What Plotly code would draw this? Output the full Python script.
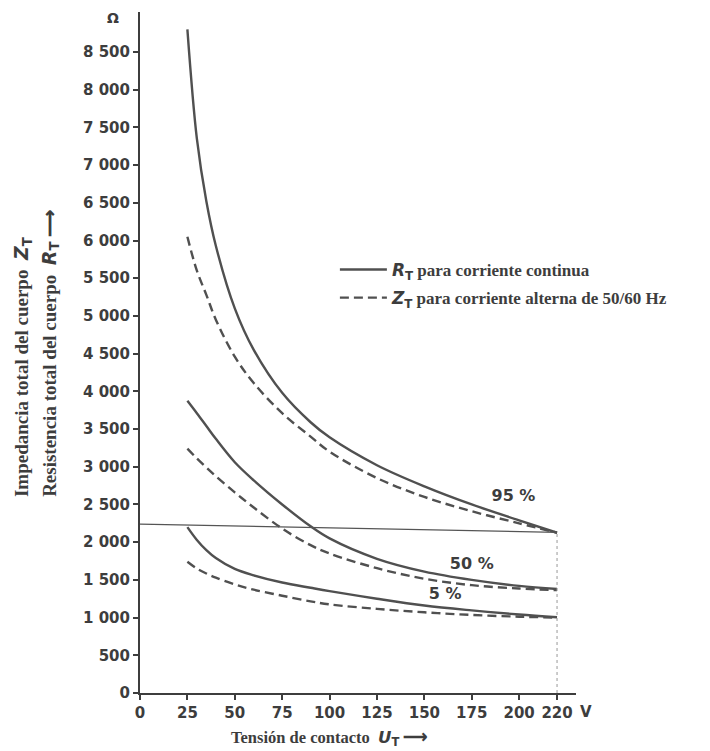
import plotly.graph_objects as go

# ---- data ----
voltage = [25, 30, 35, 40, 50, 60, 75, 90, 100, 125, 150, 175, 200, 220]
rt_95 = [8800, 7350, 6520, 5930, 5100, 4550, 3980, 3590, 3390, 3020, 2740, 2500, 2290, 2125]
zt_95 = [6050, 5600, 5280, 4950, 4460, 4110, 3710, 3400, 3200, 2850, 2600, 2410, 2250, 2125]
rt_50 = [3875, 3710, 3540, 3370, 3060, 2820, 2500, 2210, 2050, 1780, 1610, 1500, 1420, 1380]
zt_50 = [3240, 3110, 2990, 2875, 2660, 2460, 2180, 1960, 1850, 1655, 1515, 1430, 1385, 1365]
rt_5 = [2200, 2030, 1895, 1790, 1645, 1560, 1465, 1395, 1350, 1250, 1160, 1095, 1040, 1005]
zt_5 = [1740, 1650, 1585, 1530, 1440, 1370, 1290, 1215, 1175, 1115, 1070, 1035, 1012, 1000]

x_ticks = [0, 25, 50, 75, 100, 125, 150, 175, 200, 220]
y_ticks = [0, 500, 1000, 1500, 2000, 2500, 3000, 3500, 4000, 4500,
           5000, 5500, 6000, 6500, 7000, 7500, 8000, 8500]
y_tick_text = ["0", "500", "1 000", "1 500", "2 000", "2 500", "3 000", "3 500",
               "4 000", "4 500", "5 000", "5 500", "6 000", "6 500", "7 000",
               "7 500", "8 000", "8 500"]

ref_line_x = [0, 220]
ref_line_y = [2240, 2130]

pct_labels = ["95 %", "50 %", "5 %"]
pct_x = [197, 175, 161]
pct_y = [2600, 1700, 1300]

INK = "#3d3d3d"
LINE = "#505050"
SANS = "DejaVu Sans"
SERIF = "Liberation Serif"
DASH = "9px,5px"


def sym(letter):
    return (f"<i><span style='font-family:{SANS}'>{letter}</span></i>"
            f"<sub><span style='font-family:{SANS}'>T</span></sub>")


fig = go.Figure()

series = [
    (rt_95, "solid", True, "g1", f"{sym('R')} para corriente continua"),
    (zt_95, DASH, True, "g2", f"{sym('Z')} para corriente alterna de 50/60 Hz"),
    (rt_50, "solid", False, "g1", None),
    (zt_50, DASH, False, "g2", None),
    (rt_5, "solid", False, "g1", None),
    (zt_5, DASH, False, "g2", None),
]
for ys, dash, show, grp, name in series:
    fig.add_trace(go.Scatter(
        x=voltage, y=ys, mode="lines",
        line=dict(color=LINE, width=2.4, dash=dash, shape="spline", smoothing=1.0),
        showlegend=show, legendgroup=grp, name=name or "",
        hoverinfo="skip",
    ))

# reference lines
fig.add_trace(go.Scatter(x=ref_line_x, y=ref_line_y, mode="lines",
                         line=dict(color="#555", width=1.2), showlegend=False, hoverinfo="skip"))
fig.add_trace(go.Scatter(x=[ref_line_x[1], ref_line_x[1]], y=[0, ref_line_y[1]], mode="lines",
                         line=dict(color="#999", width=1, dash="dot"), showlegend=False, hoverinfo="skip"))

# percentage labels
fig.add_trace(go.Scatter(x=pct_x, y=pct_y, mode="text", text=pct_labels,
                         textfont=dict(family=SANS, size=16, color=INK, weight="bold"),
                         showlegend=False, hoverinfo="skip"))

fig.update_layout(
    width=702, height=743,
    margin=dict(l=132, r=134, t=4, b=58),
    paper_bgcolor="white", plot_bgcolor="white",
    showlegend=True,
    legend=dict(x=0.447, y=0.6476, xanchor="left", yanchor="top",
                bgcolor="rgba(0,0,0,0)", tracegroupgap=3, itemwidth=47,
                traceorder="grouped",
                font=dict(family=SERIF, size=17, color=INK, weight="bold")),
    xaxis=dict(range=[0, 230], tickvals=x_ticks, ticktext=[str(v) for v in x_ticks],
               showgrid=False, zeroline=False, showline=True, linecolor=INK, linewidth=2,
               ticks="outside", ticklen=5, tickwidth=1.5, tickcolor=INK,
               tickfont=dict(family=SANS, size=15, color=INK, weight="bold")),
    yaxis=dict(range=[0, 9030], tickvals=y_ticks, ticktext=y_tick_text,
               showgrid=False, zeroline=False, showline=True, linecolor=INK, linewidth=2,
               ticks="outside", ticklen=5, tickwidth=1.5, tickcolor=INK,
               tickfont=dict(family=SANS, size=15, color=INK, weight="bold")),
)

annos = [
    dict(text="Ω", x=-0.062, xref="paper", xanchor="center", y=8956, yref="y",
         yanchor="middle", showarrow=False,
         font=dict(family=SANS, size=14, color=INK, weight="bold")),
    dict(text="V", x=235.4 / 230, xref="paper", xanchor="center", y=0, yref="paper",
         yanchor="middle", yshift=-19, showarrow=False,
         font=dict(family=SANS, size=15, color=INK, weight="bold")),
    dict(text=f"Tensión de contacto  {sym('U')} ⟶",
         x=0.433, xref="paper", xanchor="center", y=0, yref="paper", yanchor="middle",
         yshift=-45, showarrow=False,
         font=dict(family=SERIF, size=16.5, color=INK, weight="bold")),
    dict(text=f"Impedancia total del cuerpo  {sym('Z')}",
         x=-0.271, xref="paper", xanchor="center", y=2570, yref="y", yanchor="bottom",
         textangle=-90, showarrow=False,
         font=dict(family=SERIF, size=19, color=INK, weight="bold")),
    dict(text=f"Resistencia total del cuerpo  {sym('R')} ⟶",
         x=-0.206, xref="paper", xanchor="center", y=2570, yref="y", yanchor="bottom",
         textangle=-90, showarrow=False,
         font=dict(family=SERIF, size=19, color=INK, weight="bold")),
]
for a in annos:
    fig.add_annotation(**a)

fig.write_html("out.html")
